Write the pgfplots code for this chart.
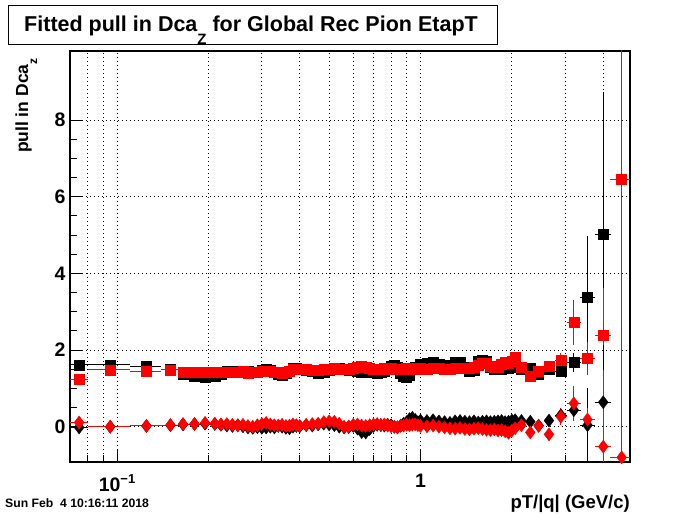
\documentclass[border=0pt]{standalone}
\usepackage{pgfplots}
\pgfplotsset{compat=1.18}
\usepackage{pgfplotstable}
\usepackage{fontspec}
\setmainfont{Liberation Sans}
\newcommand{\fs}[1]{\fontsize{#1bp}{#1bp}\selectfont\bfseries}

% columns: pT, half bin width, black squares, red squares, black diamonds, red diamonds (value + error)
\pgfplotstableread{
x     ex    bs    bse   rs    rse   bd    bde   rd    rde
0.075 0.005 1.61  0.04  1.24  0.04  -0.02 0.03  0.11  0.03
0.095 0.015 1.61  0.03  1.48  0.03  0.00  0.02  0.00  0.02
0.125 0.015 1.57  0.03  1.44  0.03  0.02  0.02  0.02  0.02
0.150 0.010 1.50  0.03  1.48  0.03  0.04  0.02  0.04  0.02
0.165 0.005 1.36  0.03  1.43  0.03  0.06  0.02  0.07  0.02
0.180 0.010 1.33  0.03  1.43  0.03  0.07  0.02  0.07  0.02
0.195 0.005 1.30  0.03  1.43  0.03  0.08  0.02  0.10  0.02
0.21  0.005 1.32  0.03  1.43  0.03  0.07  0.02  0.08  0.02
0.22  0.005 1.38  0.03  1.42  0.03  0.05  0.02  0.06  0.02
0.23  0.005 1.45  0.03  1.41  0.03  0.03  0.02  0.07  0.02
0.24  0.005 1.46  0.03  1.42  0.03  0.02  0.02  0.05  0.02
0.25  0.005 1.44  0.03  1.43  0.03  0.04  0.02  0.03  0.02
0.26  0.005 1.42  0.03  1.44  0.03  0.01  0.02  0.05  0.02
0.27  0.005 1.44  0.03  1.40  0.03  -0.02 0.02  0.02  0.02
0.28  0.005 1.41  0.03  1.42  0.03  -0.03 0.02  0.00  0.02
0.29  0.005 1.43  0.03  1.43  0.03  -0.01 0.02  0.04  0.02
0.30  0.005 1.48  0.03  1.44  0.03  -0.03 0.02  0.07  0.02
0.31  0.005 1.49  0.03  1.46  0.03  -0.02 0.02  0.10  0.02
0.32  0.005 1.47  0.03  1.45  0.03  0.00  0.02  0.06  0.02
0.33  0.005 1.42  0.03  1.43  0.03  -0.02 0.02  0.04  0.02
0.34  0.005 1.37  0.03  1.41  0.03  0.02  0.02  0.03  0.02
0.35  0.005 1.35  0.03  1.40  0.03  0.00  0.02  0.05  0.02
0.36  0.005 1.40  0.03  1.42  0.03  -0.03 0.02  0.02  0.02
0.37  0.005 1.46  0.03  1.45  0.03  -0.04 0.02  0.03  0.02
0.38  0.005 1.52  0.03  1.49  0.03  0.00  0.02  0.06  0.02
0.39  0.005 1.53  0.03  1.50  0.03  0.02  0.02  0.04  0.02
0.40  0.005 1.50  0.03  1.50  0.03  0.01  0.02  0.02  0.02
0.42  0.010 1.48  0.03  1.49  0.03  0.04  0.02  0.05  0.02
0.44  0.010 1.45  0.03  1.47  0.03  0.03  0.02  0.07  0.02
0.46  0.010 1.40  0.03  1.48  0.03  0.06  0.02  0.08  0.02
0.48  0.010 1.42  0.03  1.50  0.03  0.08  0.02  0.12  0.02
0.50  0.010 1.47  0.03  1.51  0.03  0.06  0.02  0.14  0.02
0.52  0.010 1.50  0.03  1.52  0.03  0.04  0.02  0.13  0.02
0.54  0.010 1.52  0.03  1.50  0.03  0.00  0.02  0.08  0.02
0.56  0.010 1.50  0.03  1.49  0.03  -0.02 0.02  0.00  0.02
0.58  0.010 1.48  0.03  1.50  0.03  -0.01 0.02  0.01  0.02
0.60  0.010 1.47  0.03  1.52  0.03  0.02  0.02  0.05  0.02
0.62  0.010 1.44  0.03  1.56  0.03  -0.05 0.02  0.06  0.02
0.64  0.010 1.42  0.03  1.57  0.03  -0.14 0.02  0.03  0.02
0.66  0.010 1.43  0.03  1.55  0.03  -0.15 0.02  0.02  0.02
0.68  0.010 1.48  0.03  1.52  0.03  -0.06 0.02  0.04  0.02
0.70  0.010 1.42  0.03  1.50  0.03  0.02  0.02  0.06  0.02
0.72  0.010 1.40  0.03  1.49  0.03  0.05  0.02  0.07  0.02
0.74  0.010 1.41  0.03  1.51  0.03  0.04  0.02  0.05  0.02
0.76  0.010 1.45  0.03  1.52  0.03  0.03  0.02  0.06  0.02
0.78  0.010 1.50  0.03  1.51  0.03  0.05  0.02  0.03  0.02
0.80  0.010 1.58  0.03  1.52  0.03  0.04  0.02  0.01  0.02
0.82  0.010 1.60  0.03  1.50  0.03  0.00  0.02  0.00  0.02
0.84  0.010 1.56  0.03  1.51  0.03  -0.02 0.02  -0.01 0.02
0.86  0.010 1.40  0.03  1.49  0.03  0.03  0.02  0.02  0.02
0.88  0.010 1.32  0.03  1.50  0.03  0.08  0.02  0.03  0.02
0.90  0.010 1.30  0.03  1.52  0.03  0.12  0.02  0.05  0.02
0.92  0.010 1.35  0.03  1.50  0.03  0.20  0.02  0.04  0.02
0.94  0.010 1.50  0.03  1.51  0.03  0.23  0.02  0.05  0.02
0.96  0.010 1.55  0.03  1.52  0.03  0.18  0.02  0.06  0.02
0.98  0.010 1.53  0.03  1.50  0.03  0.12  0.02  0.04  0.02
1.00  0.025 1.62  0.04  1.52  0.04  0.16  0.03  0.02  0.03
1.05  0.025 1.66  0.04  1.50  0.04  0.15  0.03  0.01  0.03
1.10  0.025 1.68  0.04  1.52  0.04  0.17  0.03  0.03  0.03
1.15  0.025 1.64  0.04  1.53  0.04  0.14  0.03  0.00  0.03
1.20  0.025 1.55  0.04  1.50  0.04  0.12  0.03  -0.02 0.03
1.25  0.025 1.60  0.04  1.49  0.04  0.10  0.03  -0.04 0.03
1.30  0.025 1.68  0.04  1.52  0.04  0.14  0.03  -0.05 0.03
1.35  0.025 1.67  0.04  1.53  0.04  0.15  0.03  -0.03 0.03
1.40  0.025 1.55  0.04  1.52  0.04  0.13  0.03  -0.06 0.03
1.45  0.025 1.45  0.04  1.53  0.04  0.12  0.03  -0.07 0.03
1.50  0.025 1.48  0.04  1.55  0.04  0.14  0.03  -0.05 0.03
1.55  0.025 1.70  0.04  1.60  0.04  0.11  0.03  -0.04 0.03
1.60  0.025 1.74  0.04  1.65  0.04  0.13  0.03  -0.06 0.03
1.65  0.025 1.72  0.04  1.66  0.04  0.14  0.03  -0.08 0.03
1.70  0.025 1.55  0.04  1.58  0.04  0.12  0.03  -0.09 0.03
1.75  0.025 1.50  0.04  1.54  0.04  0.13  0.03  -0.07 0.03
1.80  0.025 1.52  0.04  1.55  0.04  0.14  0.03  -0.10 0.03
1.85  0.025 1.50  0.04  1.62  0.04  0.15  0.03  -0.09 0.03
1.90  0.025 1.53  0.04  1.68  0.04  0.12  0.03  -0.12 0.03
1.95  0.025 1.52  0.04  1.65  0.04  0.13  0.03  -0.16 0.03
2.00  0.025 1.55  0.05  1.72  0.05  0.16  0.04  -0.10 0.04
2.05  0.025 1.57  0.05  1.81  0.05  0.17  0.04  -0.04 0.04
2.15  0.05  1.50  0.06  1.55  0.06  0.15  0.05  0.04  0.05
2.30  0.07  1.52  0.07  1.32  0.07  0.13  0.06  -0.15 0.06
2.45  0.08  1.37  0.08  1.46  0.08  0.03  0.07  0.02  0.07
2.65  0.10  1.50  0.09  1.57  0.09  0.16  0.08  -0.20 0.08
2.90  0.13  1.45  0.12  1.74  0.18  0.30  0.15  0.26  0.22
3.20  0.17  1.67  0.25  2.72  0.58  0.43  0.20  0.61  0.46
3.55  0.20  3.38  1.60  1.78  0.42  0.04  0.97  0.19  0.29
4.00  0.25  5.02  3.70  2.39  1.23  0.64  1.50  -0.52 2.00
4.60  0.40  nan   nan   6.45  12.0  nan   nan   -0.80 12.0
}\data

\begin{document}
\begin{tikzpicture}
\path[use as bounding box] (0,0) rectangle (700bp,514bp);
\begin{axis}[
    at={(70bp,52bp)}, anchor=south west,
    scale only axis, width=560bp, height=411bp,
    xmode=log, xmin=0.07, xmax=4.9,
    ymin=-0.92, ymax=9.8,
    axis line style={line width=1.2bp},
    xtick={0.1,1},
    xticklabels={10\raisebox{0.8ex}{\fs{13}−1}, 1},
    minor xtick={0.08,0.09,0.2,0.3,0.4,0.5,0.6,0.7,0.8,0.9,2,3,4},
    ytick={0,2,4,6,8},
    minor y tick num=3,
    xtick pos=left, ytick pos=left,
    tick align=inside,
    major tick length=12bp, minor tick length=7bp,
    tick style={black, line width=1bp},
    xmajorgrids, xminorgrids, ymajorgrids,
    grid style={black, line width=1bp, dash pattern=on 1bp off 3bp},
    minor grid style={black, line width=1bp, dash pattern=on 1bp off 3bp},
    /pgf/number format/assume math mode=true,
    yticklabel style={font=\fs{19.5}, xshift=-1bp},
    xticklabel style={font=\fs{19.5}, yshift=-9bp},
    error bars/error bar style={line width=1bp},
]
\addplot[only marks, mark=square*, mark size=5bp, black,
    error bars/.cd, x dir=both, x explicit, y dir=both, y explicit, error mark=none]
    table[x=x, y=bs, x error=ex, y error=bse] {\data};
\addplot[only marks, mark=square*, mark size=5bp, red,
    error bars/.cd, x dir=both, x explicit, y dir=both, y explicit, error mark=none]
    table[x=x, y=rs, x error=ex, y error=rse] {\data};
\addplot[only marks, mark=diamond*, mark size=6.5bp, black,
    error bars/.cd, x dir=both, x explicit, y dir=both, y explicit, error mark=none]
    table[x=x, y=bd, x error=ex, y error=bde] {\data};
\addplot[only marks, mark=diamond*, mark size=6.5bp, red,
    error bars/.cd, x dir=both, x explicit, y dir=both, y explicit, error mark=none]
    table[x=x, y=rd, x error=ex, y error=rde] {\data};
\end{axis}
\draw[line width=1bp, fill=white] (8bp,469bp) rectangle (497bp,508bp);
\node[anchor=base] at (251bp,482bp) {\fs{21.5}Fitted pull in Dca\raisebox{-1.1ex}{\fs{15}Z} for Global Rec Pion EtapT};
\node[rotate=90, anchor=base east] at (28bp,459bp) {\fs{17.5}pull in Dca\raisebox{-1ex}{\fs{12}z}};
\node[anchor=base east, inner sep=0pt] at (630bp,6bp) {\fs{18.5}pT/|q| (GeV/c)};
\node[anchor=base west, inner sep=0pt] at (5bp,6.5bp) {\fs{12.2}Sun Feb\ \ 4 10:16:11 2018};
\end{tikzpicture}
\end{document}
